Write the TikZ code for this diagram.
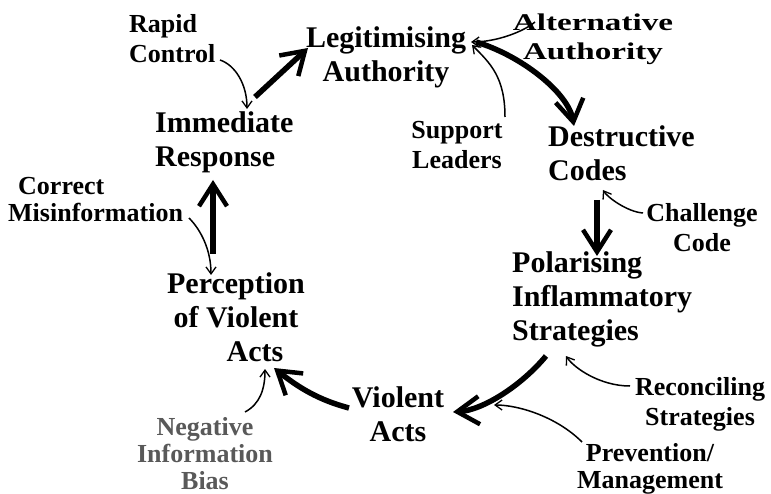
\documentclass[tikz,border=0pt]{standalone}
\usepackage{fontspec}
\setmainfont{Liberation Serif}
\usepackage{graphicx}
\usetikzlibrary{arrows.meta,calc}
\begin{document}
\begin{tikzpicture}[x=1pt,y=-1pt,
  mainlbl/.style={font=\fontsize{30}{34}\selectfont\bfseries, inner sep=0pt},
  minorlbl/.style={font=\fontsize{26}{30}\selectfont\bfseries, inner sep=0pt},
  tight/.style={font=\fontsize{26}{27}\selectfont\bfseries, inner sep=0pt},
  cyc/.style={line width=5.5pt, -{Straight Barb[length=22pt,width=28pt,line width=4.5pt]}},
  inf/.style={line width=1.5pt, -{Straight Barb[length=7pt,width=10pt,line width=1.3pt]}}
]
\useasboundingbox (0,0) rectangle (771,494);
% main labels (base = baseline of last line)
\node[mainlbl, align=center, anchor=base] (leg) at (386,82) {Legitimising\\Authority};
\node[mainlbl, align=left, anchor=base west] (des) at (548,181) {Destructive\\Codes};
\node[mainlbl, align=left, anchor=base west] (pol) at (512,340) {Polarising\\Inflammatory\\Strategies};
\node[mainlbl, align=center, anchor=base] (vio) at (398,441) {Violent\\Acts};
\node[mainlbl, align=center, anchor=base] (per) at (236,361) {Perception\\of Violent\\\hspace*{38pt}Acts};
\node[mainlbl, align=left, anchor=base west] (imm) at (155,167) {Immediate\\Response};
% influence labels
\node[minorlbl, align=left, anchor=base west] (rapid) at (129,63) {Rapid\\Control};
\node[inner sep=0pt, anchor=base, font=\fontsize{24}{29}\selectfont\bfseries] (alt) at (593,31)
  {\scalebox{1.38}[1]{\begin{tabular}[t]{@{}c@{}}Alternative\\Authority\end{tabular}}};
\node[minorlbl, align=center, anchor=base] (sup) at (457,169) {Support\\Leaders};
\node[minorlbl, align=center, anchor=base] (chal) at (702,252) {Challenge\\Code};
\node[tight, align=left, anchor=base west] (corr) at (8,222) {\hspace*{10pt}Correct\\Misinformation};
\node[minorlbl, align=center, anchor=base] (rec) at (700,425) {Reconciling\\Strategies};
\node[tight, align=center, anchor=base] (prev) at (650,488) {Prevention/\\Management};
\node[tight, align=center, anchor=base, text=black!65] (neg) at (205,489) {Negative\\Information\\Bias};
% cycle arrows
\draw[cyc] ($(imm.base west)+(100,-70)$) -- ($(leg.base)+(-78,-34)$);
\draw[cyc] ($(leg.base)+(90,-40)$) .. controls +(44,13) and +(-6,-34) .. ($(des.base west)+(26,-55)$);
\draw[cyc] ($(des.base west)+(49,19)$) -- ($(pol.base west)+(85,-84)$);
\draw[cyc] ($(pol.base west)+(34,16)$) .. controls +(-25,30) and +(30,-2) .. ($(vio.base)+(55,-29)$);
\draw[cyc] ($(vio.base)+(-49,-33)$) .. controls +(-30,-8) and +(25,20) .. ($(per.base)+(38,7)$);
\draw[cyc] ($(per.base)+(-23,-107)$) -- ($(imm.base west)+(58,13)$);
% influence arrows
\draw[inf] ($(rapid.base west)+(91,-3)$) .. controls +(15,5) and +(0,-25) .. ($(imm.base west)+(92,-58)$);
\draw[inf] ($(alt.base)+(-58,-9)$) .. controls +(-12,10) and +(25,0) .. ($(leg.base)+(85,-40)$);
\draw[inf] ($(sup.base)+(48,-52)$) .. controls +(0,-40) and +(18,18) .. ($(leg.base)+(86,-37)$);
\draw[inf] ($(chal.base)+(-59,-39)$) .. controls +(-15,-1) and +(5,8) .. ($(des.base west)+(55,9)$);
\draw[inf] ($(corr.base west)+(181,-4)$) .. controls +(12,12) and +(0,-25) .. ($(per.base)+(-25,-86)$);
\draw[inf] ($(neg.base)+(40,-77)$) .. controls +(15,-8) and +(0,20) .. ($(per.base)+(29,8)$);
\draw[inf] ($(rec.base)+(-70,-39)$) .. controls +(-30,0) and +(8,12) .. ($(pol.base west)+(54,16)$);
\draw[inf] ($(prev.base)+(-68,-46)$) .. controls +(-25,-25) and +(25,0) .. ($(vio.base)+(96,-36)$);
\end{tikzpicture}
\end{document}
